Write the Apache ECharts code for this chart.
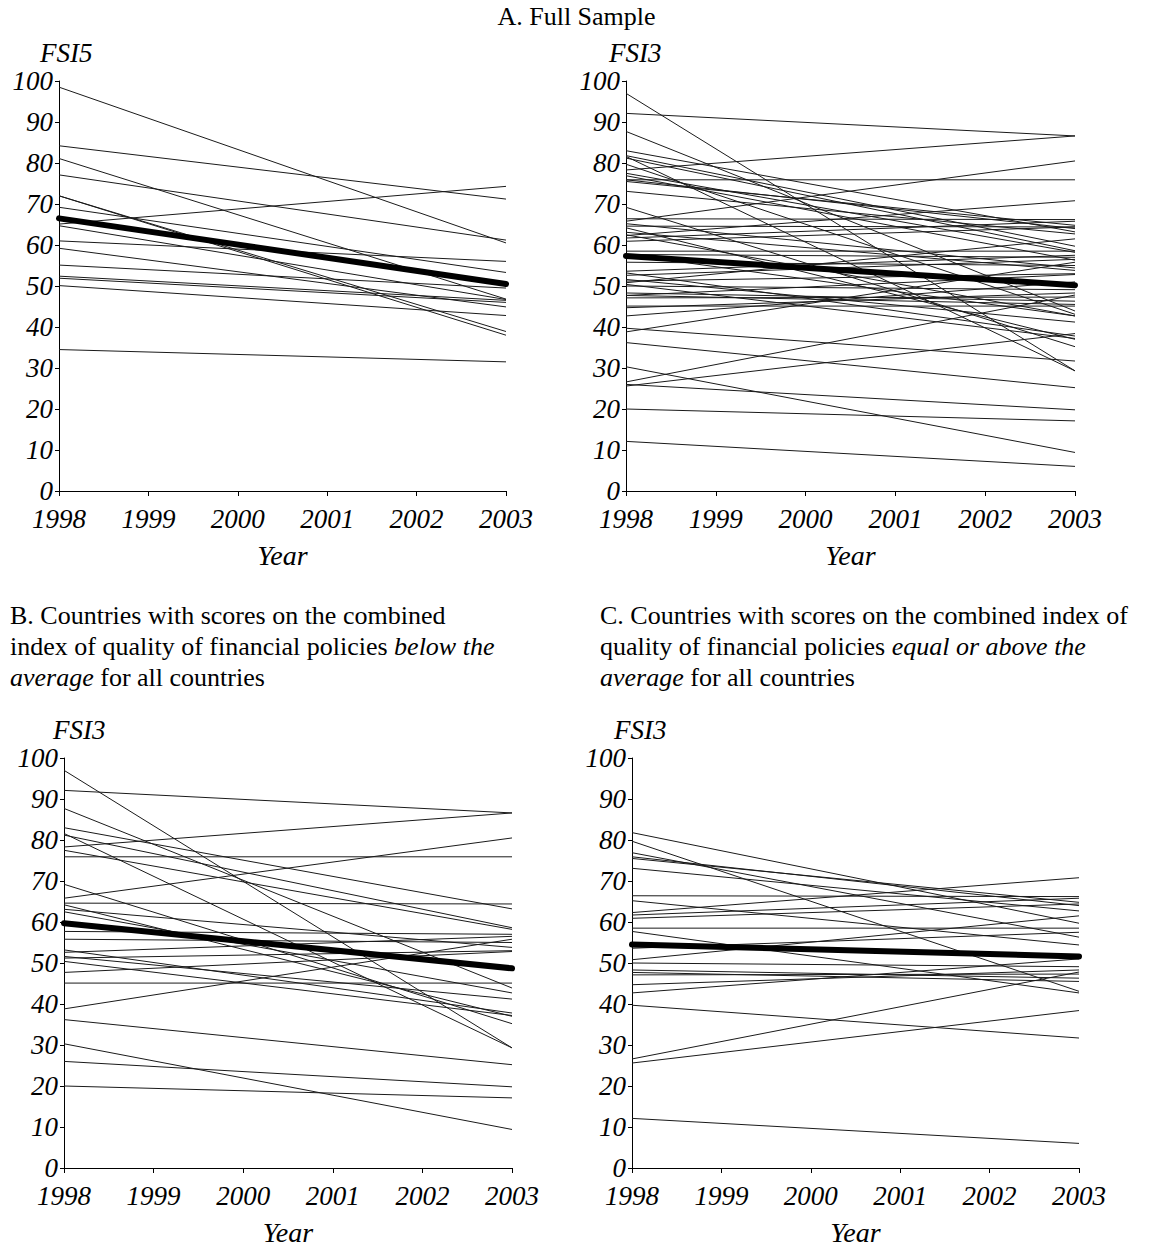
<!DOCTYPE html>
<html>
<head>
<meta charset="utf-8">
<script src="https://cdn.jsdelivr.net/npm/echarts@6/dist/echarts.min.js"></script>
<style>
html,body{margin:0;padding:0;background:#fff;}
#chart{width:1153px;height:1247px;}
</style>
</head>
<body>
<div id="chart"></div>
<script>
// ---------- data ----------
const years = [1998, 2003];
const yearTicks = [1998, 1999, 2000, 2001, 2002, 2003];
const yTicks = [0, 10, 20, 30, 40, 50, 60, 70, 80, 90, 100];

// Panel A, FSI5 (full sample): country values in 1998 and 2003
const fsi5Start = [98.5, 84.2, 81.1, 77.1, 72.0, 72.0, 69.2, 65.1, 64.7, 61.0, 59.2, 55.1, 52.4, 51.9, 50.1, 34.5];
const fsi5End   = [60.5, 71.2, 46.8, 61.2, 38.0, 38.9, 53.3, 74.3, 46.7, 56.0, 44.9, 49.5, 46.5, 46.0, 42.8, 31.5];
const fsi5Mean  = [66.5, 50.5];

// Panel B, FSI3: countries below the average policy score
const belowStart = [97.0, 92.1, 87.7, 83.0, 81.6, 81.2, 78.3, 77.5, 75.9, 69.2, 65.8, 64.6, 64.2, 63.1, 62.5, 57.7, 55.8, 53.2, 52.6, 51.6, 51.2, 50.4, 47.7, 45.1, 38.8, 36.2, 30.3, 26.0, 20.0];
const belowEnd   = [29.3, 86.6, 43.9, 63.2, 29.3, 58.6, 86.6, 58.2, 75.9, 35.2, 80.5, 64.4, 37.0, 53.8, 42.7, 57.0, 55.0, 37.8, 56.5, 41.2, 53.0, 37.2, 52.8, 45.1, 55.8, 25.2, 9.4, 19.8, 17.1];
const belowMean  = [59.7, 48.7];

// Panel C, FSI3: countries equal or above the average policy score
const aboveStart = [81.8, 79.7, 76.9, 75.9, 75.5, 73.1, 66.4, 65.2, 62.3, 61.7, 60.9, 58.5, 57.7, 53.6, 50.8, 50.0, 48.3, 47.7, 47.1, 44.7, 42.7, 39.7, 26.6, 25.6, 12.1];
const aboveEnd   = [59.7, 43.1, 56.3, 64.0, 64.8, 62.7, 66.2, 54.4, 70.8, 65.8, 64.4, 58.5, 42.7, 57.5, 61.5, 49.1, 46.3, 45.5, 47.3, 48.3, 51.0, 31.7, 47.8, 38.4, 6.0];
const aboveMean  = [54.5, 51.6];

// Panel A, FSI3 (full sample) = both groups together
const fullFsi3Mean = [57.3, 50.2];

// ---------- chart ----------
const chart = echarts.init(document.getElementById('chart'), null, {renderer: 'svg'});

const tickFont = {fontFamily: 'Liberation Serif', fontStyle: 'italic', fontSize: 27, color: '#000'};
const capFont = {fontFamily: 'Liberation Serif', fontSize: 26, color: '#000'};

const grids = [
  {left: 59, top: 81, width: 447, height: 410},
  {left: 626, top: 81, width: 449, height: 410},
  {left: 64, top: 758, width: 448, height: 411},
  {left: 632, top: 758, width: 447, height: 411}
];

const xAxes = grids.map((g, i) => ({
  type: 'value', gridIndex: i, min: 1998, max: 2003, interval: 1,
  name: 'Year', nameLocation: 'middle', nameGap: 50,
  nameTextStyle: Object.assign({}, tickFont, {fontSize: 28}),
  axisLine: {show: true, lineStyle: {color: '#000', width: 1}},
  axisTick: {show: true, length: 5, lineStyle: {color: '#000'}},
  axisLabel: Object.assign({margin: 14, formatter: v => String(v)}, tickFont),
  splitLine: {show: false}
}));

const yAxes = grids.map((g, i) => ({
  type: 'value', gridIndex: i, min: 0, max: 100, interval: 10,
  axisLine: {show: true, lineStyle: {color: '#000', width: 1}},
  axisTick: {show: true, length: 4, lineStyle: {color: '#000'}},
  axisLabel: Object.assign({margin: 6}, tickFont),
  splitLine: {show: false}
}));

const series = [];
function addLines(starts, ends, idx) {
  for (let i = 0; i < starts.length; i++) {
    series.push({
      type: 'line', xAxisIndex: idx, yAxisIndex: idx, symbol: 'none', silent: true,
      data: [[years[0], starts[i]], [years[1], ends[i]]],
      lineStyle: {color: '#1a1a1a', width: 1}, z: 2
    });
  }
}
function addMean(vals, idx) {
  series.push({
    type: 'line', xAxisIndex: idx, yAxisIndex: idx, symbol: 'none', silent: true,
    data: [[years[0], vals[0]], [years[1], vals[1]]],
    lineStyle: {color: '#000', width: 6, cap: 'round'}, z: 5
  });
}
addLines(fsi5Start, fsi5End, 0); addMean(fsi5Mean, 0);
addLines(belowStart, belowEnd, 1); addLines(aboveStart, aboveEnd, 1); addMean(fullFsi3Mean, 1);
addLines(belowStart, belowEnd, 2); addMean(belowMean, 2);
addLines(aboveStart, aboveEnd, 3); addMean(aboveMean, 3);

const italicRich = {i: {fontFamily: 'Liberation Serif', fontStyle: 'italic', fontSize: 26, color: '#000'}};
const fsiFont = {fontFamily: 'Liberation Serif', fontStyle: 'italic', fontWeight: 'normal', fontSize: 27, color: '#000'};

chart.setOption({
  animation: false,
  backgroundColor: '#fff',
  title: [
    {text: 'A. Full Sample', left: 'center', top: 3, padding: 0, textStyle: Object.assign({fontWeight: 'normal'}, capFont)},
    {text: 'FSI5', left: 40, top: 39, padding: 0, textStyle: fsiFont},
    {text: 'FSI3', left: 609, top: 39, padding: 0, textStyle: fsiFont},
    {text: 'FSI3', left: 53, top: 716, padding: 0, textStyle: fsiFont},
    {text: 'FSI3', left: 614, top: 716, padding: 0, textStyle: fsiFont},
    {text: 'B. Countries with scores on the combined\nindex of quality of financial policies {i|below the}\n{i|average} for all countries',
     left: 10, top: 600, padding: 0,
     textStyle: Object.assign({fontWeight: 'normal', lineHeight: 31, rich: italicRich}, capFont)},
    {text: 'C. Countries with scores on the combined index of\nquality of financial policies {i|equal or above the}\n{i|average} for all countries',
     left: 600, top: 600, padding: 0,
     textStyle: Object.assign({fontWeight: 'normal', lineHeight: 31, rich: italicRich}, capFont)}
  ],
  grid: grids,
  xAxis: xAxes,
  yAxis: yAxes,
  series: series
});
</script>
</body>
</html>
